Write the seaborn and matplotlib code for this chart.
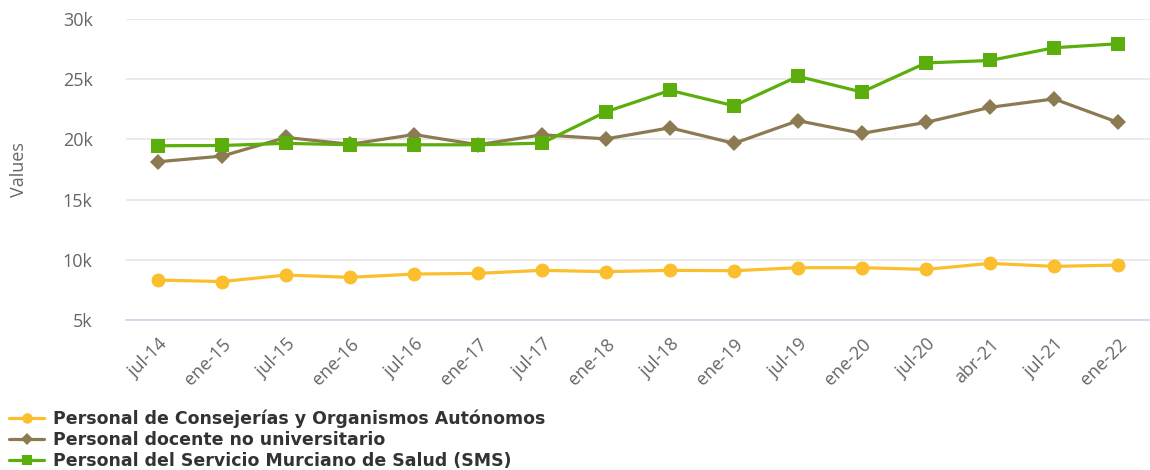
import matplotlib
matplotlib.use("Agg")
import matplotlib.pyplot as plt
import seaborn as sns
import pandas as pd
from matplotlib.ticker import FuncFormatter

categories = ["jul-14", "ene-15", "jul-15", "ene-16", "jul-16", "ene-17", "jul-17", "ene-18",
              "jul-18", "ene-19", "jul-19", "ene-20", "jul-20", "abr-21", "jul-21", "ene-22"]
consejerias = [8320, 8200, 8740, 8550, 8820, 8880, 9130, 9020,
               9130, 9100, 9350, 9350, 9210, 9710, 9460, 9570]
docente = [18150, 18620, 20170, 19600, 20410, 19560, 20390, 20050,
           20970, 19680, 21560, 20510, 21420, 22670, 23370, 21420]
sms = [19480, 19500, 19680, 19560, 19560, 19560, 19700, 22300,
       24080, 22800, 25240, 23940, 26360, 26560, 27620, 27950]

series_names = ["Personal de Consejerías y Organismos Autónomos",
                "Personal docente no universitario",
                "Personal del Servicio Murciano de Salud (SMS)"]
colors = ["#FBBE2C", "#8C7B52", "#5BAE0B"]
markers = ["o", "D", "s"]

rows = []
for name, vals in zip(series_names, [consejerias, docente, sms]):
    for i, v in enumerate(vals):
        rows.append({"idx": i, "value": v, "serie": name})
df = pd.DataFrame(rows)

sns.set_theme(style="white")
plt.rcParams['font.family'] = ['DejaVu Sans']

fig = plt.figure(figsize=(11.5, 4.7), dpi=100)
ax = fig.add_axes([0.1096, 0.319, 0.8904, 0.6404])

marker_sizes = {"o": 10, "D": 8, "s": 10}
for name, col, mk in zip(series_names, colors, markers):
    sub = df[df["serie"] == name]
    sns.lineplot(data=sub, x="idx", y="value", ax=ax, color=col, marker=mk,
                 markersize=marker_sizes[mk], markeredgewidth=0, linewidth=2.3,
                 label=name, sort=False, legend=False)

ax.set_xlim(-0.5, len(categories) - 0.5)
ax.set_ylim(5000, 30000)
ax.set_yticks([5000, 10000, 15000, 20000, 25000, 30000])
ax.yaxis.set_major_formatter(FuncFormatter(lambda v, p: f"{int(v/1000)}k"))
ax.set_xticks(range(len(categories)))
ax.set_xticklabels(categories, rotation=45, ha="right", rotation_mode="anchor")
ax.tick_params(axis="both", colors="#666666", labelsize=13, length=0)
ax.tick_params(axis="x", pad=11)
ax.tick_params(axis="y", pad=24)
for lab in ax.get_xticklabels() + ax.get_yticklabels():
    lab.set_family("Open Sans")
    lab.set_color("#666666")
ax.grid(axis="y", color="#e6e6e6", linewidth=1.2)
ax.grid(axis="x", visible=False)
for s in ["top", "right", "left"]:
    ax.spines[s].set_visible(False)
ax.spines["bottom"].set_color("#ccd6eb")
ax.spines["bottom"].set_linewidth(1.2)
ax.set_xlabel("")
ax.set_ylabel("Values", color="#666666", fontsize=13, family="Open Sans")
ax.yaxis.set_label_coords(-0.096, 0.5)

handles, labels = ax.get_legend_handles_labels()
leg = fig.legend(handles, labels, loc="upper left", bbox_to_anchor=(0.008, 0.128),
                 frameon=False, prop={"weight": "bold", "size": 12.5},
                 handlelength=2.0, handletextpad=0.55, labelspacing=0.16,
                 borderaxespad=0, borderpad=0, markerscale=0.75)
for t in leg.get_texts():
    t.set_color("#333333")

fig.savefig("out.png", dpi=100)
